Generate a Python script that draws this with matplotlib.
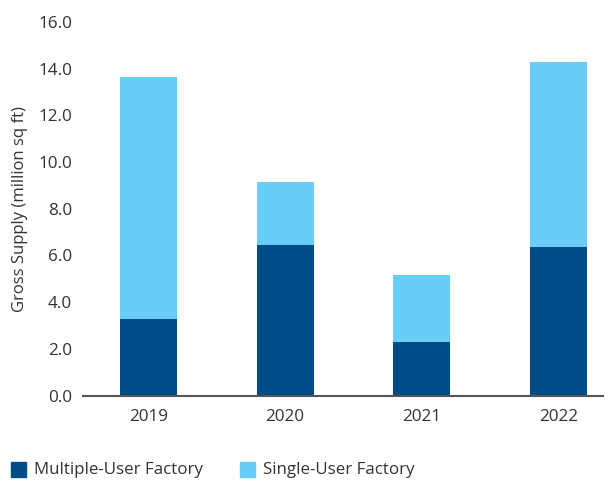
import matplotlib.pyplot as plt
from matplotlib.patches import Rectangle

plt.rcParams['font.family'] = ['Open Sans', 'DejaVu Sans']

years = ['2019', '2020', '2021', '2022']
multi_user = [3.29, 6.46, 2.31, 6.37]
single_user = [10.36, 2.70, 2.87, 7.92]
yticks = [0, 2, 4, 6, 8, 10, 12, 14, 16]

dark = '#004c87'
light = '#69cef7'
text_col = '#333333'

fig = plt.figure(figsize=(6.13, 4.83), dpi=100)
ax = fig.add_axes([83 / 613, (483 - 395.5) / 483, (603 - 83) / 613, (395.5 - 22) / 483])

x = range(len(years))
ax.bar(x, multi_user, width=0.416, color=dark, label='Multiple-User Factory')
ax.bar(x, single_user, width=0.416, bottom=multi_user, color=light, label='Single-User Factory')

ax.set_xlim(-0.478, 3.325)
ax.set_ylim(0, 16)
ax.set_xticks(list(x))
ax.set_xticklabels(years)
ax.set_yticks(yticks)
ax.set_yticklabels([f'{v:.1f}' for v in yticks])
ax.tick_params(axis='both', length=0, labelsize=12.3, colors=text_col)
ax.tick_params(axis='x', pad=10)
ax.tick_params(axis='y', pad=8)
for s in ['top', 'right', 'left']:
    ax.spines[s].set_visible(False)
ax.spines['bottom'].set_color('#555555')
ax.spines['bottom'].set_linewidth(1.5)
ax.set_ylabel('Gross Supply (million sq ft)', fontsize=12, color=text_col, labelpad=7)

# legend drawn by hand along the bottom edge
for px, col, lab in [(11, dark, 'Multiple-User Factory'), (240, light, 'Single-User Factory')]:
    fig.patches.append(Rectangle((px / 613, (483 - 477) / 483), 15 / 613, 15 / 483,
                                 transform=fig.transFigure, color=col))
    fig.text((px + 23) / 613, (483 - 470) / 483, lab, fontsize=12.2, color=text_col, va='center')

fig.savefig('out.png', dpi=100)
